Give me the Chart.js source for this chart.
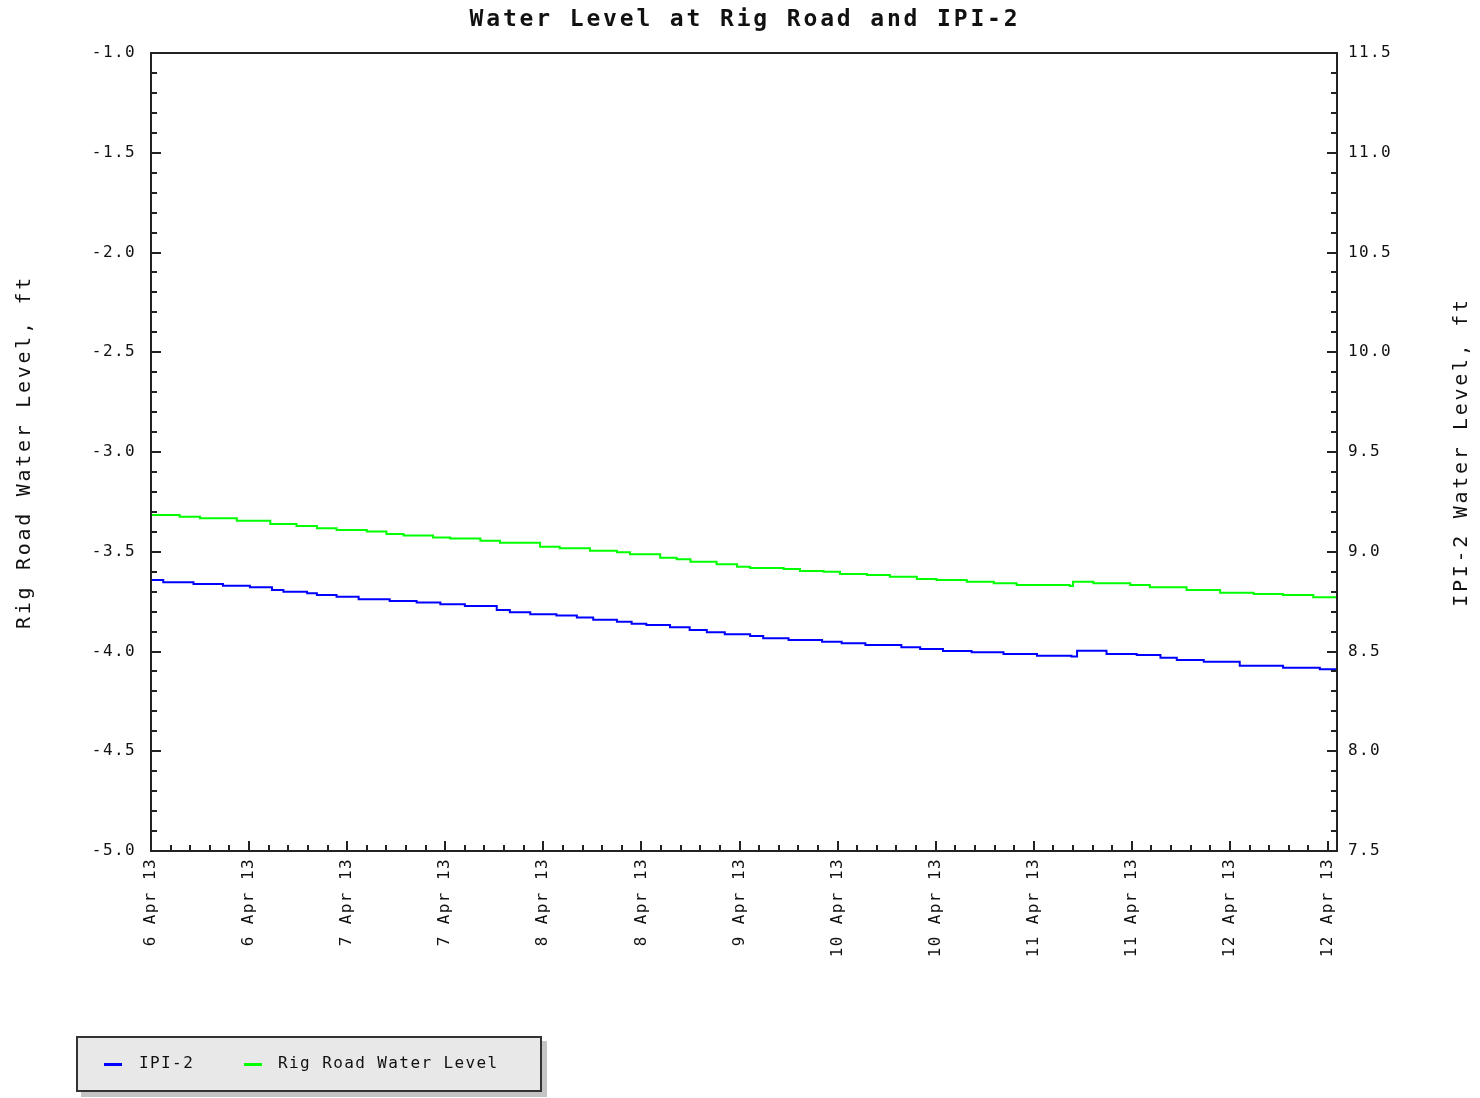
<!DOCTYPE html>
<html>
<head>
<meta charset="utf-8">
<title>Water Level at Rig Road and IPI-2</title>
<script src="https://cdn.jsdelivr.net/npm/chart.js@4/dist/chart.umd.min.js"></script>
<style>
  html, body { margin: 0; padding: 0; background: #fff; }
  #wrap { position: relative; width: 1480px; height: 1098px; }
  #legend {
    position: absolute; left: 76px; top: 1036px; width: 462px; height: 52px;
    background: #e8e8e8; border: 2px solid #333; box-shadow: 5px 5px 0 #c4c4c4;
    font: 16px "DejaVu Sans Mono", monospace; letter-spacing: 1.4px; color: #111;
  }
  #legend .sw { position: absolute; top: 25px; width: 18px; height: 3px; }
  #legend .tx { position: absolute; top: 15px; white-space: nowrap; }
</style>
</head>
<body>
<div id="wrap">
  <canvas id="chart"></canvas>
  <div id="legend">
    <span class="sw" style="left:26px;background:#0000ff"></span>
    <span class="tx" style="left:61px">IPI-2</span>
    <span class="sw" style="left:166px;background:#00ff00"></span>
    <span class="tx" style="left:200px">Rig Road Water Level</span>
  </div>
</div>
<script>
const TITLE = 'Water Level at Rig Road and IPI-2';

// 时间轴：自 6 Apr 00:00 起的小时数
const TICK_HOURS = [0, 12, 24, 36, 48, 60, 72, 84, 96, 108, 120, 132, 144];
const TICK_LABELS = ['6 Apr 13', '6 Apr 13', '7 Apr 13', '7 Apr 13', '8 Apr 13', '8 Apr 13',
  '9 Apr 13', '10 Apr 13', '10 Apr 13', '11 Apr 13', '11 Apr 13', '12 Apr 13', '12 Apr 13'];

// Rig Road 水位 (左轴)
const RIG_HOURS = [0, 3.5, 6.0, 10.5, 14.6, 17.8, 20.3, 22.7, 26.4, 28.8, 30.9, 34.5, 36.6,
  40.3, 42.7, 47.6, 50.0, 53.7, 57.0, 58.6, 62.3, 64.3, 66.0, 69.2, 71.7, 73.3, 77.4, 79.4,
  82.3, 84.3, 87.6, 90.4, 93.7, 96.1, 99.8, 103.1, 105.9, 110.0, 112.4, 112.8, 115.3, 119.8,
  122.2, 126.7, 130.8, 134.9, 138.5, 142.2, 145.1];
const RIG_LEVEL = [-3.316, -3.324, -3.332, -3.344, -3.361, -3.371, -3.382, -3.391, -3.399,
  -3.411, -3.419, -3.428, -3.433, -3.445, -3.455, -3.475, -3.483, -3.495, -3.503, -3.513,
  -3.530, -3.538, -3.550, -3.563, -3.575, -3.581, -3.586, -3.596, -3.600, -3.612, -3.617,
  -3.625, -3.637, -3.642, -3.650, -3.658, -3.667, -3.667, -3.672, -3.650, -3.658, -3.667,
  -3.678, -3.692, -3.705, -3.712, -3.717, -3.728, -3.728];

// IPI-2 水位 (右轴)
const IPI_HOURS = [0, 1.5, 5.2, 8.8, 12.1, 14.8, 16.2, 19.1, 20.3, 22.7, 25.4, 29.2, 32.5,
  35.4, 38.4, 42.3, 43.9, 46.4, 49.6, 52.1, 54.1, 57.0, 58.8, 60.6, 63.5, 65.9, 68.0, 70.2,
  73.3, 74.9, 78.0, 82.1, 84.5, 87.4, 91.8, 94.1, 96.9, 100.4, 104.3, 108.4, 112.6, 113.3,
  116.9, 120.6, 123.5, 125.5, 128.8, 133.2, 138.5, 143.0, 145.1];
const IPI_LEVEL = [8.858, 8.847, 8.838, 8.830, 8.822, 8.808, 8.800, 8.792, 8.783, 8.775,
  8.762, 8.753, 8.745, 8.737, 8.728, 8.708, 8.697, 8.687, 8.680, 8.670, 8.659, 8.649, 8.639,
  8.633, 8.621, 8.608, 8.596, 8.586, 8.578, 8.566, 8.558, 8.549, 8.541, 8.533, 8.521, 8.513,
  8.503, 8.496, 8.488, 8.479, 8.475, 8.504, 8.487, 8.482, 8.469, 8.457, 8.449, 8.429, 8.419,
  8.411, 8.407];

const X_MAX = 145.1;
const MINOR_X_STEP = 2.4;
const MINOR_Y_STEP = 0.1;
const FONT = '"DejaVu Sans Mono", monospace';

const toPoints = (xs, ys) => xs.map((x, i) => ({ x, y: ys[i] }));

// 标题、边框、向内刻度（主/次）和轴标题
const framePlugin = {
  id: 'frame',
  beforeDraw(chart) {
    chart.ctx.letterSpacing = '1.4px';
  },
  afterDraw(chart) {
    const { ctx, chartArea: a, scales } = chart;
    ctx.save();
    ctx.strokeStyle = '#222';
    ctx.lineWidth = 2;
    ctx.strokeRect(a.left, a.top, a.right - a.left, a.bottom - a.top);

    ctx.beginPath();
    const yl = scales.y;
    const steps = Math.round((yl.max - yl.min) / MINOR_Y_STEP);
    for (let i = 0; i <= steps; i++) {
      const v = yl.min + i * MINOR_Y_STEP;
      const py = Math.round(yl.getPixelForValue(v));
      const len = i % 5 === 0 ? 10 : 6;
      ctx.moveTo(a.left, py); ctx.lineTo(a.left + len, py);
      ctx.moveTo(a.right, py); ctx.lineTo(a.right - len, py);
    }
    const xs = scales.x;
    for (let i = 0; i * MINOR_X_STEP <= X_MAX; i++) {
      const px = Math.round(xs.getPixelForValue(i * MINOR_X_STEP));
      const len = i % 5 === 0 ? 10 : 6;
      ctx.moveTo(px, a.bottom); ctx.lineTo(px, a.bottom - len);
    }
    ctx.stroke();

    ctx.fillStyle = '#111';
    ctx.textAlign = 'center';
    ctx.textBaseline = 'middle';

    ctx.font = 'bold 23px ' + FONT;
    ctx.letterSpacing = '2.85px';
    ctx.fillText(TITLE, (a.left + a.right) / 2 + 1, 20);

    ctx.font = '20px ' + FONT;
    ctx.letterSpacing = '2.7px';
    const cy = (a.top + a.bottom) / 2;
    [[25, 'Rig Road Water Level, ft'], [1462, 'IPI-2 Water Level, ft']].forEach(([x, t]) => {
      ctx.save();
      ctx.translate(x, cy);
      ctx.rotate(-Math.PI / 2);
      ctx.fillText(t, 0, 0);
      ctx.restore();
    });
    ctx.restore();
  }
};

const tickFont = { family: FONT, size: 16 };

new Chart(document.getElementById('chart'), {
  type: 'line',
  data: {
    datasets: [
      {
        label: 'IPI-2',
        data: toPoints(IPI_HOURS, IPI_LEVEL),
        yAxisID: 'y2',
        borderColor: '#0000ff',
        borderWidth: 2,
        pointRadius: 0,
        stepped: true
      },
      {
        label: 'Rig Road Water Level',
        data: toPoints(RIG_HOURS, RIG_LEVEL),
        yAxisID: 'y',
        borderColor: '#00ff00',
        borderWidth: 2,
        pointRadius: 0,
        stepped: true
      }
    ]
  },
  options: {
    responsive: true,
    maintainAspectRatio: false,
    animation: false,
    layout: { padding: { top: 53 } },
    plugins: {
      legend: { display: false },
      tooltip: { enabled: false },
      title: { display: false }
    },
    scales: {
      x: {
        type: 'linear',
        min: 0,
        max: X_MAX,
        grid: { display: false, drawTicks: false },
        border: { display: false },
        afterBuildTicks: scale => { scale.ticks = TICK_HOURS.map(v => ({ value: v })); },
        afterFit: scale => { scale.height = 247; },
        ticks: {
          autoSkip: false,
          minRotation: 90,
          maxRotation: 90,
          padding: 7,
          color: '#111',
          font: tickFont,
          callback: (v, i) => TICK_LABELS[i]
        }
      },
      y: {
        position: 'left',
        min: -5,
        max: -1,
        grid: { display: false, drawTicks: false },
        border: { display: false },
        afterFit: scale => { scale.width = 151; },
        ticks: { stepSize: 0.5, padding: 15, color: '#111', font: tickFont, callback: v => v.toFixed(1) }
      },
      y2: {
        position: 'right',
        min: 7.5,
        max: 11.5,
        grid: { display: false, drawTicks: false },
        border: { display: false },
        afterFit: scale => { scale.width = 143; },
        ticks: { stepSize: 0.5, padding: 11, color: '#111', font: tickFont, callback: v => v.toFixed(1) }
      }
    }
  },
  plugins: [framePlugin]
});
</script>
</body>
</html>
